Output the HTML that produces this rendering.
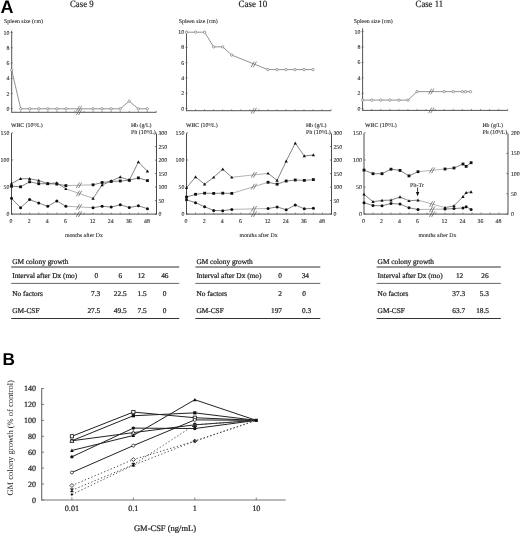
<!DOCTYPE html>
<html><head><meta charset="utf-8"><style>
html,body{margin:0;padding:0;background:#fff;}
body{width:520px;height:535px;overflow:hidden;font-family:"Liberation Serif", serif;}
svg{display:block;will-change:transform;text-rendering:geometricPrecision;}

</style></head><body>
<svg width="520" height="535" viewBox="0 0 520 535">
<rect width="520" height="535" fill="#fff"/>
<text x="0.5" y="12.7" font-size="18" text-anchor="start" font-family='"Liberation Sans", sans-serif' font-weight="bold" fill="#000" >A</text>
<text x="70" y="7.4" font-size="9.6" text-anchor="start" font-family='"Liberation Serif", serif' font-weight="normal" fill="#222" stroke="#222" stroke-width="0.2"  textLength="23.6" lengthAdjust="spacingAndGlyphs">Case 9</text>
<text x="238.6" y="7.4" font-size="9.6" text-anchor="start" font-family='"Liberation Serif", serif' font-weight="normal" fill="#222" stroke="#222" stroke-width="0.2"  textLength="28.6" lengthAdjust="spacingAndGlyphs">Case 10</text>
<text x="415.6" y="7.4" font-size="9.6" text-anchor="start" font-family='"Liberation Serif", serif' font-weight="normal" fill="#222" stroke="#222" stroke-width="0.2"  textLength="27.4" lengthAdjust="spacingAndGlyphs">Case 11</text>
<text x="4" y="23" font-size="5.85" text-anchor="start" font-family='"Liberation Serif", serif' font-weight="normal" fill="#222" stroke="#222" stroke-width="0.08" >Spleen size (cm)</text>
<line x1="11.7" y1="30.8" x2="11.7" y2="112.8" stroke="#555" stroke-width="1" />
<line x1="10.7" y1="108.8" x2="12.7" y2="108.8" stroke="#555" stroke-width="0.7" />
<text x="9.4" y="110.8" font-size="5.85" text-anchor="end" font-family='"Liberation Serif", serif' font-weight="normal" fill="#222" stroke="#222" stroke-width="0.08" >0</text>
<line x1="10.7" y1="93.54" x2="12.7" y2="93.54" stroke="#555" stroke-width="0.7" />
<text x="9.4" y="95.54" font-size="5.85" text-anchor="end" font-family='"Liberation Serif", serif' font-weight="normal" fill="#222" stroke="#222" stroke-width="0.08" >2</text>
<line x1="10.7" y1="78.28" x2="12.7" y2="78.28" stroke="#555" stroke-width="0.7" />
<text x="9.4" y="80.28" font-size="5.85" text-anchor="end" font-family='"Liberation Serif", serif' font-weight="normal" fill="#222" stroke="#222" stroke-width="0.08" >4</text>
<line x1="10.7" y1="63.02" x2="12.7" y2="63.02" stroke="#555" stroke-width="0.7" />
<text x="9.4" y="65.02" font-size="5.85" text-anchor="end" font-family='"Liberation Serif", serif' font-weight="normal" fill="#222" stroke="#222" stroke-width="0.08" >6</text>
<line x1="10.7" y1="47.76" x2="12.7" y2="47.76" stroke="#555" stroke-width="0.7" />
<text x="9.4" y="49.76" font-size="5.85" text-anchor="end" font-family='"Liberation Serif", serif' font-weight="normal" fill="#222" stroke="#222" stroke-width="0.08" >8</text>
<line x1="10.7" y1="32.5" x2="12.7" y2="32.5" stroke="#555" stroke-width="0.7" />
<text x="9.4" y="34.5" font-size="5.85" text-anchor="end" font-family='"Liberation Serif", serif' font-weight="normal" fill="#222" stroke="#222" stroke-width="0.08" >10</text>
<line x1="11.7" y1="112.3" x2="156.34" y2="112.3" stroke="#555" stroke-width="1" />
<line x1="76.35" y1="115.1" x2="79.55" y2="109.5" stroke="#555" stroke-width="0.7"/>
<line x1="78.55" y1="115.1" x2="81.75" y2="109.5" stroke="#555" stroke-width="0.7"/>
<line x1="20.74" y1="112.3" x2="20.74" y2="110.8" stroke="#555" stroke-width="0.6" />
<line x1="29.78" y1="112.3" x2="29.78" y2="110.8" stroke="#555" stroke-width="0.6" />
<line x1="38.82" y1="112.3" x2="38.82" y2="110.8" stroke="#555" stroke-width="0.6" />
<line x1="47.86" y1="112.3" x2="47.86" y2="110.8" stroke="#555" stroke-width="0.6" />
<line x1="56.9" y1="112.3" x2="56.9" y2="110.8" stroke="#555" stroke-width="0.6" />
<line x1="65.94" y1="112.3" x2="65.94" y2="110.8" stroke="#555" stroke-width="0.6" />
<line x1="74.98" y1="112.3" x2="74.98" y2="110.8" stroke="#555" stroke-width="0.6" />
<line x1="84.02" y1="112.3" x2="84.02" y2="110.8" stroke="#555" stroke-width="0.6" />
<line x1="93.06" y1="112.3" x2="93.06" y2="110.8" stroke="#555" stroke-width="0.6" />
<line x1="102.1" y1="112.3" x2="102.1" y2="110.8" stroke="#555" stroke-width="0.6" />
<line x1="111.14" y1="112.3" x2="111.14" y2="110.8" stroke="#555" stroke-width="0.6" />
<line x1="120.18" y1="112.3" x2="120.18" y2="110.8" stroke="#555" stroke-width="0.6" />
<line x1="129.22" y1="112.3" x2="129.22" y2="110.8" stroke="#555" stroke-width="0.6" />
<line x1="138.26" y1="112.3" x2="138.26" y2="110.8" stroke="#555" stroke-width="0.6" />
<line x1="147.3" y1="112.3" x2="147.3" y2="110.8" stroke="#555" stroke-width="0.6" />
<line x1="156.34" y1="112.3" x2="156.34" y2="110.8" stroke="#555" stroke-width="0.6" />
<polyline points="11.7,70.12 20.74,108.8 29.78,108.8 38.82,108.8 47.86,108.8 56.9,108.8 65.94,108.8 93.06,108.8 102.1,108.8 111.14,108.8 120.18,108.8 129.22,101.17 138.26,108.8 147.3,108.8" fill="none" stroke="#777" stroke-width="0.8" />
<circle cx="11.7" cy="70.12" r="1.2" fill="#fff" stroke="#666" stroke-width="0.6"/>
<circle cx="20.74" cy="108.8" r="1.2" fill="#fff" stroke="#666" stroke-width="0.6"/>
<circle cx="29.78" cy="108.8" r="1.2" fill="#fff" stroke="#666" stroke-width="0.6"/>
<circle cx="38.82" cy="108.8" r="1.2" fill="#fff" stroke="#666" stroke-width="0.6"/>
<circle cx="47.86" cy="108.8" r="1.2" fill="#fff" stroke="#666" stroke-width="0.6"/>
<circle cx="56.9" cy="108.8" r="1.2" fill="#fff" stroke="#666" stroke-width="0.6"/>
<circle cx="65.94" cy="108.8" r="1.2" fill="#fff" stroke="#666" stroke-width="0.6"/>
<circle cx="93.06" cy="108.8" r="1.2" fill="#fff" stroke="#666" stroke-width="0.6"/>
<circle cx="102.1" cy="108.8" r="1.2" fill="#fff" stroke="#666" stroke-width="0.6"/>
<circle cx="111.14" cy="108.8" r="1.2" fill="#fff" stroke="#666" stroke-width="0.6"/>
<circle cx="120.18" cy="108.8" r="1.2" fill="#fff" stroke="#666" stroke-width="0.6"/>
<circle cx="129.22" cy="101.17" r="1.2" fill="#fff" stroke="#666" stroke-width="0.6"/>
<circle cx="138.26" cy="108.8" r="1.2" fill="#fff" stroke="#666" stroke-width="0.6"/>
<circle cx="147.3" cy="108.8" r="1.2" fill="#fff" stroke="#666" stroke-width="0.6"/>
<text x="178.8" y="23" font-size="5.85" text-anchor="start" font-family='"Liberation Serif", serif' font-weight="normal" fill="#222" stroke="#222" stroke-width="0.08" >Spleen size (cm)</text>
<line x1="186.5" y1="30.8" x2="186.5" y2="111.2" stroke="#555" stroke-width="1" />
<line x1="185.5" y1="108.5" x2="187.5" y2="108.5" stroke="#555" stroke-width="0.7" />
<text x="184.2" y="110.5" font-size="5.85" text-anchor="end" font-family='"Liberation Serif", serif' font-weight="normal" fill="#222" stroke="#222" stroke-width="0.08" >0</text>
<line x1="185.5" y1="93.24" x2="187.5" y2="93.24" stroke="#555" stroke-width="0.7" />
<text x="184.2" y="95.24" font-size="5.85" text-anchor="end" font-family='"Liberation Serif", serif' font-weight="normal" fill="#222" stroke="#222" stroke-width="0.08" >2</text>
<line x1="185.5" y1="77.98" x2="187.5" y2="77.98" stroke="#555" stroke-width="0.7" />
<text x="184.2" y="79.98" font-size="5.85" text-anchor="end" font-family='"Liberation Serif", serif' font-weight="normal" fill="#222" stroke="#222" stroke-width="0.08" >4</text>
<line x1="185.5" y1="62.72" x2="187.5" y2="62.72" stroke="#555" stroke-width="0.7" />
<text x="184.2" y="64.72" font-size="5.85" text-anchor="end" font-family='"Liberation Serif", serif' font-weight="normal" fill="#222" stroke="#222" stroke-width="0.08" >6</text>
<line x1="185.5" y1="47.46" x2="187.5" y2="47.46" stroke="#555" stroke-width="0.7" />
<text x="184.2" y="49.46" font-size="5.85" text-anchor="end" font-family='"Liberation Serif", serif' font-weight="normal" fill="#222" stroke="#222" stroke-width="0.08" >8</text>
<line x1="185.5" y1="32.2" x2="187.5" y2="32.2" stroke="#555" stroke-width="0.7" />
<text x="184.2" y="34.2" font-size="5.85" text-anchor="end" font-family='"Liberation Serif", serif' font-weight="normal" fill="#222" stroke="#222" stroke-width="0.08" >10</text>
<line x1="186.5" y1="110.7" x2="331.14" y2="110.7" stroke="#555" stroke-width="1" />
<line x1="251.06" y1="113.5" x2="254.26" y2="107.9" stroke="#555" stroke-width="0.7"/>
<line x1="253.26" y1="113.5" x2="256.46" y2="107.9" stroke="#555" stroke-width="0.7"/>
<line x1="195.54" y1="110.7" x2="195.54" y2="109.2" stroke="#555" stroke-width="0.6" />
<line x1="204.58" y1="110.7" x2="204.58" y2="109.2" stroke="#555" stroke-width="0.6" />
<line x1="213.62" y1="110.7" x2="213.62" y2="109.2" stroke="#555" stroke-width="0.6" />
<line x1="222.66" y1="110.7" x2="222.66" y2="109.2" stroke="#555" stroke-width="0.6" />
<line x1="231.7" y1="110.7" x2="231.7" y2="109.2" stroke="#555" stroke-width="0.6" />
<line x1="240.74" y1="110.7" x2="240.74" y2="109.2" stroke="#555" stroke-width="0.6" />
<line x1="249.78" y1="110.7" x2="249.78" y2="109.2" stroke="#555" stroke-width="0.6" />
<line x1="258.82" y1="110.7" x2="258.82" y2="109.2" stroke="#555" stroke-width="0.6" />
<line x1="267.86" y1="110.7" x2="267.86" y2="109.2" stroke="#555" stroke-width="0.6" />
<line x1="276.9" y1="110.7" x2="276.9" y2="109.2" stroke="#555" stroke-width="0.6" />
<line x1="285.94" y1="110.7" x2="285.94" y2="109.2" stroke="#555" stroke-width="0.6" />
<line x1="294.98" y1="110.7" x2="294.98" y2="109.2" stroke="#555" stroke-width="0.6" />
<line x1="304.02" y1="110.7" x2="304.02" y2="109.2" stroke="#555" stroke-width="0.6" />
<line x1="313.06" y1="110.7" x2="313.06" y2="109.2" stroke="#555" stroke-width="0.6" />
<line x1="322.1" y1="110.7" x2="322.1" y2="109.2" stroke="#555" stroke-width="0.6" />
<line x1="331.14" y1="110.7" x2="331.14" y2="109.2" stroke="#555" stroke-width="0.6" />
<polyline points="186.5,32.2 195.54,32.2 204.58,32.2 213.62,46.85 222.66,46.85 231.7,55.09 267.86,69.59 276.9,69.59 285.94,69.59 294.98,69.59 304.02,69.59 313.06,69.59" fill="none" stroke="#777" stroke-width="0.8" />
<circle cx="186.5" cy="32.2" r="1.2" fill="#fff" stroke="#666" stroke-width="0.6"/>
<circle cx="195.54" cy="32.2" r="1.2" fill="#fff" stroke="#666" stroke-width="0.6"/>
<circle cx="204.58" cy="32.2" r="1.2" fill="#fff" stroke="#666" stroke-width="0.6"/>
<circle cx="213.62" cy="46.85" r="1.2" fill="#fff" stroke="#666" stroke-width="0.6"/>
<circle cx="222.66" cy="46.85" r="1.2" fill="#fff" stroke="#666" stroke-width="0.6"/>
<circle cx="231.7" cy="55.09" r="1.2" fill="#fff" stroke="#666" stroke-width="0.6"/>
<circle cx="267.86" cy="69.59" r="1.2" fill="#fff" stroke="#666" stroke-width="0.6"/>
<circle cx="276.9" cy="69.59" r="1.2" fill="#fff" stroke="#666" stroke-width="0.6"/>
<circle cx="285.94" cy="69.59" r="1.2" fill="#fff" stroke="#666" stroke-width="0.6"/>
<circle cx="294.98" cy="69.59" r="1.2" fill="#fff" stroke="#666" stroke-width="0.6"/>
<circle cx="304.02" cy="69.59" r="1.2" fill="#fff" stroke="#666" stroke-width="0.6"/>
<circle cx="313.06" cy="69.59" r="1.2" fill="#fff" stroke="#666" stroke-width="0.6"/>
<text x="353.8" y="23" font-size="5.85" text-anchor="start" font-family='"Liberation Serif", serif' font-weight="normal" fill="#222" stroke="#222" stroke-width="0.08" >Spleen size (cm)</text>
<line x1="362.6" y1="28.4" x2="362.6" y2="110.9" stroke="#555" stroke-width="1" />
<line x1="361.6" y1="108.8" x2="363.6" y2="108.8" stroke="#555" stroke-width="0.7" />
<text x="360.3" y="110.8" font-size="5.85" text-anchor="end" font-family='"Liberation Serif", serif' font-weight="normal" fill="#222" stroke="#222" stroke-width="0.08" >0</text>
<line x1="361.6" y1="93.34" x2="363.6" y2="93.34" stroke="#555" stroke-width="0.7" />
<text x="360.3" y="95.34" font-size="5.85" text-anchor="end" font-family='"Liberation Serif", serif' font-weight="normal" fill="#222" stroke="#222" stroke-width="0.08" >2</text>
<line x1="361.6" y1="77.88" x2="363.6" y2="77.88" stroke="#555" stroke-width="0.7" />
<text x="360.3" y="79.88" font-size="5.85" text-anchor="end" font-family='"Liberation Serif", serif' font-weight="normal" fill="#222" stroke="#222" stroke-width="0.08" >4</text>
<line x1="361.6" y1="62.42" x2="363.6" y2="62.42" stroke="#555" stroke-width="0.7" />
<text x="360.3" y="64.42" font-size="5.85" text-anchor="end" font-family='"Liberation Serif", serif' font-weight="normal" fill="#222" stroke="#222" stroke-width="0.08" >6</text>
<line x1="361.6" y1="46.96" x2="363.6" y2="46.96" stroke="#555" stroke-width="0.7" />
<text x="360.3" y="48.96" font-size="5.85" text-anchor="end" font-family='"Liberation Serif", serif' font-weight="normal" fill="#222" stroke="#222" stroke-width="0.08" >8</text>
<line x1="361.6" y1="31.5" x2="363.6" y2="31.5" stroke="#555" stroke-width="0.7" />
<text x="360.3" y="33.5" font-size="5.85" text-anchor="end" font-family='"Liberation Serif", serif' font-weight="normal" fill="#222" stroke="#222" stroke-width="0.08" >10</text>
<line x1="362.6" y1="110.4" x2="507.72" y2="110.4" stroke="#555" stroke-width="1" />
<line x1="428.56" y1="113.2" x2="431.76" y2="107.6" stroke="#555" stroke-width="0.7"/>
<line x1="430.76" y1="113.2" x2="433.96" y2="107.6" stroke="#555" stroke-width="0.7"/>
<line x1="371.67" y1="110.4" x2="371.67" y2="108.9" stroke="#555" stroke-width="0.6" />
<line x1="380.74" y1="110.4" x2="380.74" y2="108.9" stroke="#555" stroke-width="0.6" />
<line x1="389.81" y1="110.4" x2="389.81" y2="108.9" stroke="#555" stroke-width="0.6" />
<line x1="398.88" y1="110.4" x2="398.88" y2="108.9" stroke="#555" stroke-width="0.6" />
<line x1="407.95" y1="110.4" x2="407.95" y2="108.9" stroke="#555" stroke-width="0.6" />
<line x1="417.02" y1="110.4" x2="417.02" y2="108.9" stroke="#555" stroke-width="0.6" />
<line x1="426.09" y1="110.4" x2="426.09" y2="108.9" stroke="#555" stroke-width="0.6" />
<line x1="435.16" y1="110.4" x2="435.16" y2="108.9" stroke="#555" stroke-width="0.6" />
<line x1="444.23" y1="110.4" x2="444.23" y2="108.9" stroke="#555" stroke-width="0.6" />
<line x1="453.3" y1="110.4" x2="453.3" y2="108.9" stroke="#555" stroke-width="0.6" />
<line x1="462.37" y1="110.4" x2="462.37" y2="108.9" stroke="#555" stroke-width="0.6" />
<line x1="471.44" y1="110.4" x2="471.44" y2="108.9" stroke="#555" stroke-width="0.6" />
<line x1="480.51" y1="110.4" x2="480.51" y2="108.9" stroke="#555" stroke-width="0.6" />
<line x1="489.58" y1="110.4" x2="489.58" y2="108.9" stroke="#555" stroke-width="0.6" />
<line x1="498.65" y1="110.4" x2="498.65" y2="108.9" stroke="#555" stroke-width="0.6" />
<line x1="507.72" y1="110.4" x2="507.72" y2="108.9" stroke="#555" stroke-width="0.6" />
<polyline points="362.6,100.14 371.67,100.14 380.74,100.14 389.81,100.14 398.88,100.14 407.95,100.14 417.02,91.64 444.23,91.64 453.3,91.64 462.37,91.64 465.54,91.64 470.53,91.64" fill="none" stroke="#777" stroke-width="0.8" />
<circle cx="362.6" cy="100.14" r="1.2" fill="#fff" stroke="#666" stroke-width="0.6"/>
<circle cx="371.67" cy="100.14" r="1.2" fill="#fff" stroke="#666" stroke-width="0.6"/>
<circle cx="380.74" cy="100.14" r="1.2" fill="#fff" stroke="#666" stroke-width="0.6"/>
<circle cx="389.81" cy="100.14" r="1.2" fill="#fff" stroke="#666" stroke-width="0.6"/>
<circle cx="398.88" cy="100.14" r="1.2" fill="#fff" stroke="#666" stroke-width="0.6"/>
<circle cx="407.95" cy="100.14" r="1.2" fill="#fff" stroke="#666" stroke-width="0.6"/>
<circle cx="417.02" cy="91.64" r="1.2" fill="#fff" stroke="#666" stroke-width="0.6"/>
<circle cx="444.23" cy="91.64" r="1.2" fill="#fff" stroke="#666" stroke-width="0.6"/>
<circle cx="453.3" cy="91.64" r="1.2" fill="#fff" stroke="#666" stroke-width="0.6"/>
<circle cx="462.37" cy="91.64" r="1.2" fill="#fff" stroke="#666" stroke-width="0.6"/>
<circle cx="465.54" cy="91.64" r="1.2" fill="#fff" stroke="#666" stroke-width="0.6"/>
<circle cx="470.53" cy="91.64" r="1.2" fill="#fff" stroke="#666" stroke-width="0.6"/>
<line x1="251.06" y1="67.2" x2="254.26" y2="61.6" stroke="#555" stroke-width="0.7"/>
<line x1="253.26" y1="67.2" x2="256.46" y2="61.6" stroke="#555" stroke-width="0.7"/>
<line x1="76.35" y1="111.4" x2="79.55" y2="105.8" stroke="#666" stroke-width="0.7"/>
<line x1="78.55" y1="111.4" x2="81.75" y2="105.8" stroke="#666" stroke-width="0.7"/>
<line x1="428.56" y1="94.2" x2="431.76" y2="88.6" stroke="#555" stroke-width="0.7"/>
<line x1="430.76" y1="94.2" x2="433.96" y2="88.6" stroke="#555" stroke-width="0.7"/>
<text x="10.9" y="127" font-size="5.85" text-anchor="start" font-family='"Liberation Serif", serif' font-weight="normal" fill="#222" stroke="#222" stroke-width="0.08" >WBC (10⁹/L)</text>
<text x="130.9" y="126.6" font-size="5.85" text-anchor="start" font-family='"Liberation Serif", serif' font-weight="normal" fill="#222" stroke="#222" stroke-width="0.08" >Hb (g/L)</text>
<text x="130.9" y="134.1" font-size="5.85" text-anchor="start" font-family='"Liberation Serif", serif' font-weight="normal" fill="#222" stroke="#222" stroke-width="0.08" >Plt (10⁹/L)</text>
<line x1="11.5" y1="133.2" x2="11.5" y2="214.6" stroke="#4a4a4a" stroke-width="1" />
<line x1="11.5" y1="214.1" x2="13.1" y2="214.1" stroke="#4a4a4a" stroke-width="0.7" />
<text x="9.3" y="216.1" font-size="5.85" text-anchor="end" font-family='"Liberation Serif", serif' font-weight="normal" fill="#222" stroke="#222" stroke-width="0.08" >0</text>
<line x1="11.5" y1="187.03" x2="13.1" y2="187.03" stroke="#4a4a4a" stroke-width="0.7" />
<text x="9.3" y="189.03" font-size="5.85" text-anchor="end" font-family='"Liberation Serif", serif' font-weight="normal" fill="#222" stroke="#222" stroke-width="0.08" >50</text>
<line x1="11.5" y1="159.97" x2="13.1" y2="159.97" stroke="#4a4a4a" stroke-width="0.7" />
<text x="9.3" y="161.97" font-size="5.85" text-anchor="end" font-family='"Liberation Serif", serif' font-weight="normal" fill="#222" stroke="#222" stroke-width="0.08" >100</text>
<line x1="11.5" y1="132.9" x2="13.1" y2="132.9" stroke="#4a4a4a" stroke-width="0.7" />
<text x="9.3" y="134.9" font-size="5.85" text-anchor="end" font-family='"Liberation Serif", serif' font-weight="normal" fill="#222" stroke="#222" stroke-width="0.08" >150</text>
<line x1="156.5" y1="133.6" x2="156.5" y2="214.6" stroke="#4a4a4a" stroke-width="1" />
<line x1="154.9" y1="214.1" x2="156.5" y2="214.1" stroke="#4a4a4a" stroke-width="0.7" />
<text x="158.4" y="216.1" font-size="5.85" text-anchor="start" font-family='"Liberation Serif", serif' font-weight="normal" fill="#222" stroke="#222" stroke-width="0.08" >0</text>
<line x1="154.9" y1="200.6" x2="156.5" y2="200.6" stroke="#4a4a4a" stroke-width="0.7" />
<text x="158.4" y="202.6" font-size="5.85" text-anchor="start" font-family='"Liberation Serif", serif' font-weight="normal" fill="#222" stroke="#222" stroke-width="0.08" >50</text>
<line x1="154.9" y1="187.1" x2="156.5" y2="187.1" stroke="#4a4a4a" stroke-width="0.7" />
<text x="158.4" y="189.1" font-size="5.85" text-anchor="start" font-family='"Liberation Serif", serif' font-weight="normal" fill="#222" stroke="#222" stroke-width="0.08" >100</text>
<line x1="154.9" y1="173.6" x2="156.5" y2="173.6" stroke="#4a4a4a" stroke-width="0.7" />
<text x="158.4" y="175.6" font-size="5.85" text-anchor="start" font-family='"Liberation Serif", serif' font-weight="normal" fill="#222" stroke="#222" stroke-width="0.08" >150</text>
<line x1="154.9" y1="160.1" x2="156.5" y2="160.1" stroke="#4a4a4a" stroke-width="0.7" />
<text x="158.4" y="162.1" font-size="5.85" text-anchor="start" font-family='"Liberation Serif", serif' font-weight="normal" fill="#222" stroke="#222" stroke-width="0.08" >200</text>
<line x1="154.9" y1="146.6" x2="156.5" y2="146.6" stroke="#4a4a4a" stroke-width="0.7" />
<text x="158.4" y="148.6" font-size="5.85" text-anchor="start" font-family='"Liberation Serif", serif' font-weight="normal" fill="#222" stroke="#222" stroke-width="0.08" >250</text>
<line x1="154.9" y1="133.1" x2="156.5" y2="133.1" stroke="#4a4a4a" stroke-width="0.7" />
<text x="158.4" y="135.1" font-size="5.85" text-anchor="start" font-family='"Liberation Serif", serif' font-weight="normal" fill="#222" stroke="#222" stroke-width="0.08" >300</text>
<line x1="11.5" y1="214.1" x2="156.5" y2="214.1" stroke="#4a4a4a" stroke-width="1" />
<line x1="76.32" y1="216.9" x2="79.52" y2="211.3" stroke="#4a4a4a" stroke-width="0.7"/>
<line x1="78.52" y1="216.9" x2="81.72" y2="211.3" stroke="#4a4a4a" stroke-width="0.7"/>
<line x1="20.56" y1="214.1" x2="20.56" y2="212.6" stroke="#4a4a4a" stroke-width="0.6" />
<line x1="29.62" y1="214.1" x2="29.62" y2="212.6" stroke="#4a4a4a" stroke-width="0.6" />
<line x1="38.69" y1="214.1" x2="38.69" y2="212.6" stroke="#4a4a4a" stroke-width="0.6" />
<line x1="47.75" y1="214.1" x2="47.75" y2="212.6" stroke="#4a4a4a" stroke-width="0.6" />
<line x1="56.81" y1="214.1" x2="56.81" y2="212.6" stroke="#4a4a4a" stroke-width="0.6" />
<line x1="65.88" y1="214.1" x2="65.88" y2="212.6" stroke="#4a4a4a" stroke-width="0.6" />
<line x1="74.94" y1="214.1" x2="74.94" y2="212.6" stroke="#4a4a4a" stroke-width="0.6" />
<line x1="84" y1="214.1" x2="84" y2="212.6" stroke="#4a4a4a" stroke-width="0.6" />
<line x1="93.06" y1="214.1" x2="93.06" y2="212.6" stroke="#4a4a4a" stroke-width="0.6" />
<line x1="102.12" y1="214.1" x2="102.12" y2="212.6" stroke="#4a4a4a" stroke-width="0.6" />
<line x1="111.19" y1="214.1" x2="111.19" y2="212.6" stroke="#4a4a4a" stroke-width="0.6" />
<line x1="120.25" y1="214.1" x2="120.25" y2="212.6" stroke="#4a4a4a" stroke-width="0.6" />
<line x1="129.31" y1="214.1" x2="129.31" y2="212.6" stroke="#4a4a4a" stroke-width="0.6" />
<line x1="138.38" y1="214.1" x2="138.38" y2="212.6" stroke="#4a4a4a" stroke-width="0.6" />
<line x1="147.44" y1="214.1" x2="147.44" y2="212.6" stroke="#4a4a4a" stroke-width="0.6" />
<text x="11" y="223" font-size="5.85" text-anchor="middle" font-family='"Liberation Serif", serif' font-weight="normal" fill="#222" stroke="#222" stroke-width="0.08" >0</text>
<text x="29.12" y="223" font-size="5.85" text-anchor="middle" font-family='"Liberation Serif", serif' font-weight="normal" fill="#222" stroke="#222" stroke-width="0.08" >2</text>
<text x="47.25" y="223" font-size="5.85" text-anchor="middle" font-family='"Liberation Serif", serif' font-weight="normal" fill="#222" stroke="#222" stroke-width="0.08" >4</text>
<text x="65.38" y="223" font-size="5.85" text-anchor="middle" font-family='"Liberation Serif", serif' font-weight="normal" fill="#222" stroke="#222" stroke-width="0.08" >6</text>
<text x="92.56" y="223" font-size="5.85" text-anchor="middle" font-family='"Liberation Serif", serif' font-weight="normal" fill="#222" stroke="#222" stroke-width="0.08" >12</text>
<text x="110.69" y="223" font-size="5.85" text-anchor="middle" font-family='"Liberation Serif", serif' font-weight="normal" fill="#222" stroke="#222" stroke-width="0.08" >24</text>
<text x="128.81" y="223" font-size="5.85" text-anchor="middle" font-family='"Liberation Serif", serif' font-weight="normal" fill="#222" stroke="#222" stroke-width="0.08" >36</text>
<text x="146.94" y="223" font-size="5.85" text-anchor="middle" font-family='"Liberation Serif", serif' font-weight="normal" fill="#222" stroke="#222" stroke-width="0.08" >48</text>
<text x="64.9" y="236.6" font-size="5.85" text-anchor="start" font-family='"Liberation Serif", serif' font-weight="normal" fill="#222" stroke="#222" stroke-width="0.08" >months after Dx</text>
<polyline points="11.5,183.5 20.56,178.7 29.62,178.7 38.69,180.5 47.75,183.5 56.81,183 65.88,188.8" fill="none" stroke="#5a5a5a" stroke-width="0.75" />
<polyline points="65.88,188.8 93.06,198.4" fill="none" stroke="#999" stroke-width="0.75" />
<polyline points="93.06,198.4 102.12,185 111.19,181 120.25,177 129.31,180.2 138.38,162 147.44,171.2" fill="none" stroke="#5a5a5a" stroke-width="0.75" />
<line x1="76.32" y1="196.24" x2="79.52" y2="190.64" stroke="#555" stroke-width="0.7"/>
<line x1="78.52" y1="196.24" x2="81.72" y2="190.64" stroke="#555" stroke-width="0.7"/>
<polygon points="11.5,181.87 9.87,184.8 13.13,184.8" fill="#111"/>
<polygon points="20.56,177.07 18.93,180 22.19,180" fill="#111"/>
<polygon points="29.62,177.07 28,180 31.25,180" fill="#111"/>
<polygon points="38.69,178.87 37.06,181.8 40.32,181.8" fill="#111"/>
<polygon points="47.75,181.87 46.12,184.8 49.38,184.8" fill="#111"/>
<polygon points="56.81,181.37 55.18,184.3 58.44,184.3" fill="#111"/>
<polygon points="65.88,187.17 64.25,190.1 67.5,190.1" fill="#111"/>
<polygon points="93.06,196.77 91.43,199.7 94.69,199.7" fill="#111"/>
<polygon points="102.12,183.37 100.5,186.3 103.75,186.3" fill="#111"/>
<polygon points="111.19,179.37 109.56,182.3 112.82,182.3" fill="#111"/>
<polygon points="120.25,175.37 118.62,178.3 121.88,178.3" fill="#111"/>
<polygon points="129.31,178.57 127.68,181.5 130.94,181.5" fill="#111"/>
<polygon points="138.38,160.37 136.75,163.3 140,163.3" fill="#111"/>
<polygon points="147.44,169.57 145.81,172.5 149.07,172.5" fill="#111"/>
<polyline points="11.5,186.2 20.56,186.8 29.62,181.8 38.69,183.7 47.75,183.7 56.81,184.1 65.88,185.6" fill="none" stroke="#5a5a5a" stroke-width="0.75" />
<polyline points="65.88,185.6 93.06,184.8" fill="none" stroke="#999" stroke-width="0.75" />
<polyline points="93.06,184.8 102.12,182.5 111.19,181.5 120.25,181 129.31,180.2 138.38,177.9 147.44,180.6" fill="none" stroke="#5a5a5a" stroke-width="0.75" />
<line x1="76.32" y1="188.01" x2="79.52" y2="182.41" stroke="#555" stroke-width="0.7"/>
<line x1="78.52" y1="188.01" x2="81.72" y2="182.41" stroke="#555" stroke-width="0.7"/>
<rect x="10.09" y="184.79" width="2.82" height="2.82" fill="#111"/>
<rect x="19.15" y="185.39" width="2.82" height="2.82" fill="#111"/>
<rect x="28.22" y="180.39" width="2.82" height="2.82" fill="#111"/>
<rect x="37.28" y="182.29" width="2.82" height="2.82" fill="#111"/>
<rect x="46.34" y="182.29" width="2.82" height="2.82" fill="#111"/>
<rect x="55.4" y="182.69" width="2.82" height="2.82" fill="#111"/>
<rect x="64.47" y="184.19" width="2.82" height="2.82" fill="#111"/>
<rect x="91.65" y="183.39" width="2.82" height="2.82" fill="#111"/>
<rect x="100.72" y="181.09" width="2.82" height="2.82" fill="#111"/>
<rect x="109.78" y="180.09" width="2.82" height="2.82" fill="#111"/>
<rect x="118.84" y="179.59" width="2.82" height="2.82" fill="#111"/>
<rect x="127.9" y="178.79" width="2.82" height="2.82" fill="#111"/>
<rect x="136.97" y="176.49" width="2.82" height="2.82" fill="#111"/>
<rect x="146.03" y="179.19" width="2.82" height="2.82" fill="#111"/>
<polyline points="11.5,198.3 20.56,207.7 29.62,199.6 38.69,203 47.75,206.3 56.81,201 65.88,206.2" fill="none" stroke="#5a5a5a" stroke-width="0.75" />
<polyline points="65.88,206.2 93.06,207.7" fill="none" stroke="#999" stroke-width="0.75" />
<polyline points="93.06,207.7 102.12,206.2 111.19,207.1 120.25,204.8 129.31,207.5 138.38,205.8 147.44,208.7" fill="none" stroke="#5a5a5a" stroke-width="0.75" />
<line x1="76.32" y1="209.72" x2="79.52" y2="204.12" stroke="#555" stroke-width="0.7"/>
<line x1="78.52" y1="209.72" x2="81.72" y2="204.12" stroke="#555" stroke-width="0.7"/>
<circle cx="11.5" cy="198.3" r="1.5" fill="#111"/>
<circle cx="20.56" cy="207.7" r="1.5" fill="#111"/>
<circle cx="29.62" cy="199.6" r="1.5" fill="#111"/>
<circle cx="38.69" cy="203" r="1.5" fill="#111"/>
<circle cx="47.75" cy="206.3" r="1.5" fill="#111"/>
<circle cx="56.81" cy="201" r="1.5" fill="#111"/>
<circle cx="65.88" cy="206.2" r="1.5" fill="#111"/>
<circle cx="93.06" cy="207.7" r="1.5" fill="#111"/>
<circle cx="102.12" cy="206.2" r="1.5" fill="#111"/>
<circle cx="111.19" cy="207.1" r="1.5" fill="#111"/>
<circle cx="120.25" cy="204.8" r="1.5" fill="#111"/>
<circle cx="129.31" cy="207.5" r="1.5" fill="#111"/>
<circle cx="138.38" cy="205.8" r="1.5" fill="#111"/>
<circle cx="147.44" cy="208.7" r="1.5" fill="#111"/>
<text x="185.9" y="127" font-size="5.85" text-anchor="start" font-family='"Liberation Serif", serif' font-weight="normal" fill="#222" stroke="#222" stroke-width="0.08" >WBC (10⁹/L)</text>
<text x="305.9" y="126.6" font-size="5.85" text-anchor="start" font-family='"Liberation Serif", serif' font-weight="normal" fill="#222" stroke="#222" stroke-width="0.08" >Hb (g/L)</text>
<text x="305.9" y="134.1" font-size="5.85" text-anchor="start" font-family='"Liberation Serif", serif' font-weight="normal" fill="#222" stroke="#222" stroke-width="0.08" >Plt (10⁹/L)</text>
<line x1="186.5" y1="133.2" x2="186.5" y2="214.6" stroke="#4a4a4a" stroke-width="1" />
<line x1="186.5" y1="214.1" x2="188.1" y2="214.1" stroke="#4a4a4a" stroke-width="0.7" />
<text x="184.3" y="216.1" font-size="5.85" text-anchor="end" font-family='"Liberation Serif", serif' font-weight="normal" fill="#222" stroke="#222" stroke-width="0.08" >0</text>
<line x1="186.5" y1="187.03" x2="188.1" y2="187.03" stroke="#4a4a4a" stroke-width="0.7" />
<text x="184.3" y="189.03" font-size="5.85" text-anchor="end" font-family='"Liberation Serif", serif' font-weight="normal" fill="#222" stroke="#222" stroke-width="0.08" >50</text>
<line x1="186.5" y1="159.97" x2="188.1" y2="159.97" stroke="#4a4a4a" stroke-width="0.7" />
<text x="184.3" y="161.97" font-size="5.85" text-anchor="end" font-family='"Liberation Serif", serif' font-weight="normal" fill="#222" stroke="#222" stroke-width="0.08" >100</text>
<line x1="186.5" y1="132.9" x2="188.1" y2="132.9" stroke="#4a4a4a" stroke-width="0.7" />
<text x="184.3" y="134.9" font-size="5.85" text-anchor="end" font-family='"Liberation Serif", serif' font-weight="normal" fill="#222" stroke="#222" stroke-width="0.08" >150</text>
<line x1="331.5" y1="133.6" x2="331.5" y2="214.6" stroke="#4a4a4a" stroke-width="1" />
<line x1="329.9" y1="214.1" x2="331.5" y2="214.1" stroke="#4a4a4a" stroke-width="0.7" />
<text x="333.4" y="216.1" font-size="5.85" text-anchor="start" font-family='"Liberation Serif", serif' font-weight="normal" fill="#222" stroke="#222" stroke-width="0.08" >0</text>
<line x1="329.9" y1="200.6" x2="331.5" y2="200.6" stroke="#4a4a4a" stroke-width="0.7" />
<text x="333.4" y="202.6" font-size="5.85" text-anchor="start" font-family='"Liberation Serif", serif' font-weight="normal" fill="#222" stroke="#222" stroke-width="0.08" >50</text>
<line x1="329.9" y1="187.1" x2="331.5" y2="187.1" stroke="#4a4a4a" stroke-width="0.7" />
<text x="333.4" y="189.1" font-size="5.85" text-anchor="start" font-family='"Liberation Serif", serif' font-weight="normal" fill="#222" stroke="#222" stroke-width="0.08" >100</text>
<line x1="329.9" y1="173.6" x2="331.5" y2="173.6" stroke="#4a4a4a" stroke-width="0.7" />
<text x="333.4" y="175.6" font-size="5.85" text-anchor="start" font-family='"Liberation Serif", serif' font-weight="normal" fill="#222" stroke="#222" stroke-width="0.08" >150</text>
<line x1="329.9" y1="160.1" x2="331.5" y2="160.1" stroke="#4a4a4a" stroke-width="0.7" />
<text x="333.4" y="162.1" font-size="5.85" text-anchor="start" font-family='"Liberation Serif", serif' font-weight="normal" fill="#222" stroke="#222" stroke-width="0.08" >200</text>
<line x1="329.9" y1="146.6" x2="331.5" y2="146.6" stroke="#4a4a4a" stroke-width="0.7" />
<text x="333.4" y="148.6" font-size="5.85" text-anchor="start" font-family='"Liberation Serif", serif' font-weight="normal" fill="#222" stroke="#222" stroke-width="0.08" >250</text>
<line x1="329.9" y1="133.1" x2="331.5" y2="133.1" stroke="#4a4a4a" stroke-width="0.7" />
<text x="333.4" y="135.1" font-size="5.85" text-anchor="start" font-family='"Liberation Serif", serif' font-weight="normal" fill="#222" stroke="#222" stroke-width="0.08" >300</text>
<line x1="186.5" y1="214.1" x2="331.5" y2="214.1" stroke="#4a4a4a" stroke-width="1" />
<line x1="251.23" y1="216.9" x2="254.43" y2="211.3" stroke="#4a4a4a" stroke-width="0.7"/>
<line x1="253.43" y1="216.9" x2="256.62" y2="211.3" stroke="#4a4a4a" stroke-width="0.7"/>
<line x1="195.56" y1="214.1" x2="195.56" y2="212.6" stroke="#4a4a4a" stroke-width="0.6" />
<line x1="204.62" y1="214.1" x2="204.62" y2="212.6" stroke="#4a4a4a" stroke-width="0.6" />
<line x1="213.69" y1="214.1" x2="213.69" y2="212.6" stroke="#4a4a4a" stroke-width="0.6" />
<line x1="222.75" y1="214.1" x2="222.75" y2="212.6" stroke="#4a4a4a" stroke-width="0.6" />
<line x1="231.81" y1="214.1" x2="231.81" y2="212.6" stroke="#4a4a4a" stroke-width="0.6" />
<line x1="240.88" y1="214.1" x2="240.88" y2="212.6" stroke="#4a4a4a" stroke-width="0.6" />
<line x1="249.94" y1="214.1" x2="249.94" y2="212.6" stroke="#4a4a4a" stroke-width="0.6" />
<line x1="259" y1="214.1" x2="259" y2="212.6" stroke="#4a4a4a" stroke-width="0.6" />
<line x1="268.06" y1="214.1" x2="268.06" y2="212.6" stroke="#4a4a4a" stroke-width="0.6" />
<line x1="277.12" y1="214.1" x2="277.12" y2="212.6" stroke="#4a4a4a" stroke-width="0.6" />
<line x1="286.19" y1="214.1" x2="286.19" y2="212.6" stroke="#4a4a4a" stroke-width="0.6" />
<line x1="295.25" y1="214.1" x2="295.25" y2="212.6" stroke="#4a4a4a" stroke-width="0.6" />
<line x1="304.31" y1="214.1" x2="304.31" y2="212.6" stroke="#4a4a4a" stroke-width="0.6" />
<line x1="313.38" y1="214.1" x2="313.38" y2="212.6" stroke="#4a4a4a" stroke-width="0.6" />
<line x1="322.44" y1="214.1" x2="322.44" y2="212.6" stroke="#4a4a4a" stroke-width="0.6" />
<text x="186" y="223" font-size="5.85" text-anchor="middle" font-family='"Liberation Serif", serif' font-weight="normal" fill="#222" stroke="#222" stroke-width="0.08" >0</text>
<text x="204.12" y="223" font-size="5.85" text-anchor="middle" font-family='"Liberation Serif", serif' font-weight="normal" fill="#222" stroke="#222" stroke-width="0.08" >2</text>
<text x="222.25" y="223" font-size="5.85" text-anchor="middle" font-family='"Liberation Serif", serif' font-weight="normal" fill="#222" stroke="#222" stroke-width="0.08" >4</text>
<text x="240.38" y="223" font-size="5.85" text-anchor="middle" font-family='"Liberation Serif", serif' font-weight="normal" fill="#222" stroke="#222" stroke-width="0.08" >6</text>
<text x="267.56" y="223" font-size="5.85" text-anchor="middle" font-family='"Liberation Serif", serif' font-weight="normal" fill="#222" stroke="#222" stroke-width="0.08" >12</text>
<text x="285.69" y="223" font-size="5.85" text-anchor="middle" font-family='"Liberation Serif", serif' font-weight="normal" fill="#222" stroke="#222" stroke-width="0.08" >24</text>
<text x="303.81" y="223" font-size="5.85" text-anchor="middle" font-family='"Liberation Serif", serif' font-weight="normal" fill="#222" stroke="#222" stroke-width="0.08" >36</text>
<text x="321.94" y="223" font-size="5.85" text-anchor="middle" font-family='"Liberation Serif", serif' font-weight="normal" fill="#222" stroke="#222" stroke-width="0.08" >48</text>
<text x="239.6" y="236.6" font-size="5.85" text-anchor="start" font-family='"Liberation Serif", serif' font-weight="normal" fill="#222" stroke="#222" stroke-width="0.08" >months after Dx</text>
<polyline points="186.5,187.7 195.56,177 204.62,184.2 213.69,177.3 222.75,169.2 231.81,177.3" fill="none" stroke="#5a5a5a" stroke-width="0.75" />
<polyline points="231.81,177.3 268.06,173.3" fill="none" stroke="#999" stroke-width="0.75" />
<polyline points="268.06,173.3 277.12,180.4 286.19,161.2 295.25,143.1 304.31,156 313.38,155" fill="none" stroke="#5a5a5a" stroke-width="0.75" />
<line x1="251.23" y1="177.66" x2="254.43" y2="172.06" stroke="#555" stroke-width="0.7"/>
<line x1="253.43" y1="177.66" x2="256.62" y2="172.06" stroke="#555" stroke-width="0.7"/>
<polygon points="186.5,186.07 184.87,189 188.13,189" fill="#111"/>
<polygon points="195.56,175.37 193.93,178.3 197.19,178.3" fill="#111"/>
<polygon points="204.62,182.57 203,185.5 206.25,185.5" fill="#111"/>
<polygon points="213.69,175.67 212.06,178.6 215.32,178.6" fill="#111"/>
<polygon points="222.75,167.57 221.12,170.5 224.38,170.5" fill="#111"/>
<polygon points="231.81,175.67 230.18,178.6 233.44,178.6" fill="#111"/>
<polygon points="268.06,171.67 266.43,174.6 269.69,174.6" fill="#111"/>
<polygon points="277.12,178.77 275.5,181.7 278.75,181.7" fill="#111"/>
<polygon points="286.19,159.57 284.56,162.5 287.82,162.5" fill="#111"/>
<polygon points="295.25,141.47 293.62,144.4 296.88,144.4" fill="#111"/>
<polygon points="304.31,154.37 302.68,157.3 305.94,157.3" fill="#111"/>
<polygon points="313.38,153.37 311.75,156.3 315,156.3" fill="#111"/>
<polyline points="186.5,197.1 195.56,194.3 204.62,193.2 213.69,193.4 222.75,193.2 231.81,193.4" fill="none" stroke="#5a5a5a" stroke-width="0.75" />
<polyline points="231.81,193.4 268.06,182.3" fill="none" stroke="#999" stroke-width="0.75" />
<polyline points="268.06,182.3 277.12,184.2 286.19,181 295.25,180 304.31,180.4 313.38,179.6" fill="none" stroke="#5a5a5a" stroke-width="0.75" />
<line x1="251.23" y1="189.43" x2="254.43" y2="183.83" stroke="#555" stroke-width="0.7"/>
<line x1="253.43" y1="189.43" x2="256.62" y2="183.83" stroke="#555" stroke-width="0.7"/>
<rect x="185.09" y="195.69" width="2.82" height="2.82" fill="#111"/>
<rect x="194.15" y="192.89" width="2.82" height="2.82" fill="#111"/>
<rect x="203.22" y="191.79" width="2.82" height="2.82" fill="#111"/>
<rect x="212.28" y="191.99" width="2.82" height="2.82" fill="#111"/>
<rect x="221.34" y="191.79" width="2.82" height="2.82" fill="#111"/>
<rect x="230.4" y="191.99" width="2.82" height="2.82" fill="#111"/>
<rect x="266.65" y="180.89" width="2.82" height="2.82" fill="#111"/>
<rect x="275.72" y="182.79" width="2.82" height="2.82" fill="#111"/>
<rect x="284.78" y="179.59" width="2.82" height="2.82" fill="#111"/>
<rect x="293.84" y="178.59" width="2.82" height="2.82" fill="#111"/>
<rect x="302.9" y="178.99" width="2.82" height="2.82" fill="#111"/>
<rect x="311.97" y="178.19" width="2.82" height="2.82" fill="#111"/>
<polyline points="186.5,199.8 195.56,202.7 204.62,206.7 213.69,210.5 222.75,210.7 231.81,209.4" fill="none" stroke="#5a5a5a" stroke-width="0.75" />
<polyline points="231.81,209.4 268.06,208.5" fill="none" stroke="#999" stroke-width="0.75" />
<polyline points="268.06,208.5 277.12,206.9 286.19,209.8 295.25,205 304.31,208.8 313.38,208.3" fill="none" stroke="#5a5a5a" stroke-width="0.75" />
<line x1="251.23" y1="211.65" x2="254.43" y2="206.05" stroke="#555" stroke-width="0.7"/>
<line x1="253.43" y1="211.65" x2="256.62" y2="206.05" stroke="#555" stroke-width="0.7"/>
<circle cx="186.5" cy="199.8" r="1.5" fill="#111"/>
<circle cx="195.56" cy="202.7" r="1.5" fill="#111"/>
<circle cx="204.62" cy="206.7" r="1.5" fill="#111"/>
<circle cx="213.69" cy="210.5" r="1.5" fill="#111"/>
<circle cx="222.75" cy="210.7" r="1.5" fill="#111"/>
<circle cx="231.81" cy="209.4" r="1.5" fill="#111"/>
<circle cx="268.06" cy="208.5" r="1.5" fill="#111"/>
<circle cx="277.12" cy="206.9" r="1.5" fill="#111"/>
<circle cx="286.19" cy="209.8" r="1.5" fill="#111"/>
<circle cx="295.25" cy="205" r="1.5" fill="#111"/>
<circle cx="304.31" cy="208.8" r="1.5" fill="#111"/>
<circle cx="313.38" cy="208.3" r="1.5" fill="#111"/>
<text x="365" y="127" font-size="5.85" text-anchor="start" font-family='"Liberation Serif", serif' font-weight="normal" fill="#222" stroke="#222" stroke-width="0.08" >WBC (10⁹/L)</text>
<text x="482.4" y="126.6" font-size="5.85" text-anchor="start" font-family='"Liberation Serif", serif' font-weight="normal" fill="#222" stroke="#222" stroke-width="0.08" >Hb (g/L)</text>
<text x="482.4" y="134.1" font-size="5.85" text-anchor="start" font-family='"Liberation Serif", serif' font-weight="normal" fill="#222" stroke="#222" stroke-width="0.08" >Plt (10⁹/L)</text>
<line x1="364" y1="133.2" x2="364" y2="214.6" stroke="#4a4a4a" stroke-width="1" />
<line x1="364" y1="214.1" x2="365.6" y2="214.1" stroke="#4a4a4a" stroke-width="0.7" />
<text x="361.8" y="216.1" font-size="5.85" text-anchor="end" font-family='"Liberation Serif", serif' font-weight="normal" fill="#222" stroke="#222" stroke-width="0.08" >0</text>
<line x1="364" y1="187.03" x2="365.6" y2="187.03" stroke="#4a4a4a" stroke-width="0.7" />
<text x="361.8" y="189.03" font-size="5.85" text-anchor="end" font-family='"Liberation Serif", serif' font-weight="normal" fill="#222" stroke="#222" stroke-width="0.08" >50</text>
<line x1="364" y1="159.97" x2="365.6" y2="159.97" stroke="#4a4a4a" stroke-width="0.7" />
<text x="361.8" y="161.97" font-size="5.85" text-anchor="end" font-family='"Liberation Serif", serif' font-weight="normal" fill="#222" stroke="#222" stroke-width="0.08" >100</text>
<line x1="364" y1="132.9" x2="365.6" y2="132.9" stroke="#4a4a4a" stroke-width="0.7" />
<text x="361.8" y="134.9" font-size="5.85" text-anchor="end" font-family='"Liberation Serif", serif' font-weight="normal" fill="#222" stroke="#222" stroke-width="0.08" >150</text>
<line x1="508" y1="133.6" x2="508" y2="214.6" stroke="#4a4a4a" stroke-width="1" />
<line x1="506.4" y1="214.1" x2="508" y2="214.1" stroke="#4a4a4a" stroke-width="0.7" />
<text x="510.9" y="216.1" font-size="5.85" text-anchor="start" font-family='"Liberation Serif", serif' font-weight="normal" fill="#222" stroke="#222" stroke-width="0.08" >0</text>
<line x1="506.4" y1="193.85" x2="508" y2="193.85" stroke="#4a4a4a" stroke-width="0.7" />
<text x="510.9" y="195.85" font-size="5.85" text-anchor="start" font-family='"Liberation Serif", serif' font-weight="normal" fill="#222" stroke="#222" stroke-width="0.08" >50</text>
<line x1="506.4" y1="173.6" x2="508" y2="173.6" stroke="#4a4a4a" stroke-width="0.7" />
<text x="510.9" y="175.6" font-size="5.85" text-anchor="start" font-family='"Liberation Serif", serif' font-weight="normal" fill="#222" stroke="#222" stroke-width="0.08" >100</text>
<line x1="506.4" y1="153.35" x2="508" y2="153.35" stroke="#4a4a4a" stroke-width="0.7" />
<text x="510.9" y="155.35" font-size="5.85" text-anchor="start" font-family='"Liberation Serif", serif' font-weight="normal" fill="#222" stroke="#222" stroke-width="0.08" >150</text>
<line x1="506.4" y1="133.1" x2="508" y2="133.1" stroke="#4a4a4a" stroke-width="0.7" />
<text x="510.9" y="135.1" font-size="5.85" text-anchor="start" font-family='"Liberation Serif", serif' font-weight="normal" fill="#222" stroke="#222" stroke-width="0.08" >200</text>
<line x1="364" y1="214.1" x2="508" y2="214.1" stroke="#4a4a4a" stroke-width="1" />
<line x1="429.43" y1="216.9" x2="432.63" y2="211.3" stroke="#4a4a4a" stroke-width="0.7"/>
<line x1="431.63" y1="216.9" x2="434.83" y2="211.3" stroke="#4a4a4a" stroke-width="0.7"/>
<line x1="373" y1="214.1" x2="373" y2="212.6" stroke="#4a4a4a" stroke-width="0.6" />
<line x1="382" y1="214.1" x2="382" y2="212.6" stroke="#4a4a4a" stroke-width="0.6" />
<line x1="391" y1="214.1" x2="391" y2="212.6" stroke="#4a4a4a" stroke-width="0.6" />
<line x1="400" y1="214.1" x2="400" y2="212.6" stroke="#4a4a4a" stroke-width="0.6" />
<line x1="409" y1="214.1" x2="409" y2="212.6" stroke="#4a4a4a" stroke-width="0.6" />
<line x1="418" y1="214.1" x2="418" y2="212.6" stroke="#4a4a4a" stroke-width="0.6" />
<line x1="427" y1="214.1" x2="427" y2="212.6" stroke="#4a4a4a" stroke-width="0.6" />
<line x1="436" y1="214.1" x2="436" y2="212.6" stroke="#4a4a4a" stroke-width="0.6" />
<line x1="445" y1="214.1" x2="445" y2="212.6" stroke="#4a4a4a" stroke-width="0.6" />
<line x1="454" y1="214.1" x2="454" y2="212.6" stroke="#4a4a4a" stroke-width="0.6" />
<line x1="463" y1="214.1" x2="463" y2="212.6" stroke="#4a4a4a" stroke-width="0.6" />
<line x1="472" y1="214.1" x2="472" y2="212.6" stroke="#4a4a4a" stroke-width="0.6" />
<line x1="481" y1="214.1" x2="481" y2="212.6" stroke="#4a4a4a" stroke-width="0.6" />
<line x1="490" y1="214.1" x2="490" y2="212.6" stroke="#4a4a4a" stroke-width="0.6" />
<line x1="499" y1="214.1" x2="499" y2="212.6" stroke="#4a4a4a" stroke-width="0.6" />
<text x="363.5" y="223" font-size="5.85" text-anchor="middle" font-family='"Liberation Serif", serif' font-weight="normal" fill="#222" stroke="#222" stroke-width="0.08" >0</text>
<text x="381.5" y="223" font-size="5.85" text-anchor="middle" font-family='"Liberation Serif", serif' font-weight="normal" fill="#222" stroke="#222" stroke-width="0.08" >2</text>
<text x="399.5" y="223" font-size="5.85" text-anchor="middle" font-family='"Liberation Serif", serif' font-weight="normal" fill="#222" stroke="#222" stroke-width="0.08" >4</text>
<text x="417.5" y="223" font-size="5.85" text-anchor="middle" font-family='"Liberation Serif", serif' font-weight="normal" fill="#222" stroke="#222" stroke-width="0.08" >6</text>
<text x="444.5" y="223" font-size="5.85" text-anchor="middle" font-family='"Liberation Serif", serif' font-weight="normal" fill="#222" stroke="#222" stroke-width="0.08" >12</text>
<text x="462.5" y="223" font-size="5.85" text-anchor="middle" font-family='"Liberation Serif", serif' font-weight="normal" fill="#222" stroke="#222" stroke-width="0.08" >24</text>
<text x="480.5" y="223" font-size="5.85" text-anchor="middle" font-family='"Liberation Serif", serif' font-weight="normal" fill="#222" stroke="#222" stroke-width="0.08" >36</text>
<text x="498.5" y="223" font-size="5.85" text-anchor="middle" font-family='"Liberation Serif", serif' font-weight="normal" fill="#222" stroke="#222" stroke-width="0.08" >48</text>
<text x="418.4" y="236.6" font-size="5.85" text-anchor="start" font-family='"Liberation Serif", serif' font-weight="normal" fill="#222" stroke="#222" stroke-width="0.08" >months after Dx</text>
<polyline points="364,170.1 373,173.7 382,173.7 391,169.2 400,170.4 409,175.9 418,171.7" fill="none" stroke="#5a5a5a" stroke-width="0.75" />
<polyline points="418,171.7 445,169" fill="none" stroke="#999" stroke-width="0.75" />
<polyline points="445,169 454,168 463,164 466.15,166.4 471.1,162.7" fill="none" stroke="#5a5a5a" stroke-width="0.75" />
<line x1="429.43" y1="173.09" x2="432.63" y2="167.49" stroke="#555" stroke-width="0.7"/>
<line x1="431.63" y1="173.09" x2="434.83" y2="167.49" stroke="#555" stroke-width="0.7"/>
<rect x="362.59" y="168.69" width="2.82" height="2.82" fill="#111"/>
<rect x="371.59" y="172.29" width="2.82" height="2.82" fill="#111"/>
<rect x="380.59" y="172.29" width="2.82" height="2.82" fill="#111"/>
<rect x="389.59" y="167.79" width="2.82" height="2.82" fill="#111"/>
<rect x="398.59" y="168.99" width="2.82" height="2.82" fill="#111"/>
<rect x="407.59" y="174.49" width="2.82" height="2.82" fill="#111"/>
<rect x="416.59" y="170.29" width="2.82" height="2.82" fill="#111"/>
<rect x="443.59" y="167.59" width="2.82" height="2.82" fill="#111"/>
<rect x="452.59" y="166.59" width="2.82" height="2.82" fill="#111"/>
<rect x="461.59" y="162.59" width="2.82" height="2.82" fill="#111"/>
<rect x="464.74" y="164.99" width="2.82" height="2.82" fill="#111"/>
<rect x="469.69" y="161.29" width="2.82" height="2.82" fill="#111"/>
<polyline points="364,194.3 373,201.7 382,200.4 391,200.1 400,197 409,200.8 418,200.1" fill="none" stroke="#5a5a5a" stroke-width="0.75" />
<polyline points="418,200.1 445,207.6" fill="none" stroke="#999" stroke-width="0.75" />
<polyline points="445,207.6 454,205.8 463,196.7 466.15,192.7 471.1,191.9" fill="none" stroke="#5a5a5a" stroke-width="0.75" />
<line x1="429.43" y1="206.83" x2="432.63" y2="201.22" stroke="#555" stroke-width="0.7"/>
<line x1="431.63" y1="206.83" x2="434.83" y2="201.22" stroke="#555" stroke-width="0.7"/>
<polygon points="364,192.67 362.37,195.6 365.63,195.6" fill="#111"/>
<polygon points="373,200.07 371.37,203 374.63,203" fill="#111"/>
<polygon points="382,198.77 380.37,201.7 383.63,201.7" fill="#111"/>
<polygon points="391,198.47 389.37,201.4 392.63,201.4" fill="#111"/>
<polygon points="400,195.37 398.37,198.3 401.63,198.3" fill="#111"/>
<polygon points="409,199.17 407.37,202.1 410.63,202.1" fill="#111"/>
<polygon points="418,198.47 416.37,201.4 419.63,201.4" fill="#111"/>
<polygon points="445,205.97 443.37,208.9 446.63,208.9" fill="#111"/>
<polygon points="454,204.17 452.37,207.1 455.63,207.1" fill="#111"/>
<polygon points="463,195.07 461.37,198 464.63,198" fill="#111"/>
<polygon points="466.15,191.07 464.52,194 467.78,194" fill="#111"/>
<polygon points="471.1,190.27 469.47,193.2 472.73,193.2" fill="#111"/>
<polyline points="364,202.8 373,205.5 382,205.8 391,203.5 400,204.1 409,207.8 418,209.5" fill="none" stroke="#5a5a5a" stroke-width="0.75" />
<polyline points="418,209.5 445,209.1" fill="none" stroke="#999" stroke-width="0.75" />
<polyline points="445,209.1 454,208.5 463,208 466.15,206.7 471.1,209.5" fill="none" stroke="#5a5a5a" stroke-width="0.75" />
<line x1="429.43" y1="212.09" x2="432.63" y2="206.49" stroke="#555" stroke-width="0.7"/>
<line x1="431.63" y1="212.09" x2="434.83" y2="206.49" stroke="#555" stroke-width="0.7"/>
<circle cx="364" cy="202.8" r="1.5" fill="#111"/>
<circle cx="373" cy="205.5" r="1.5" fill="#111"/>
<circle cx="382" cy="205.8" r="1.5" fill="#111"/>
<circle cx="391" cy="203.5" r="1.5" fill="#111"/>
<circle cx="400" cy="204.1" r="1.5" fill="#111"/>
<circle cx="409" cy="207.8" r="1.5" fill="#111"/>
<circle cx="418" cy="209.5" r="1.5" fill="#111"/>
<circle cx="445" cy="209.1" r="1.5" fill="#111"/>
<circle cx="454" cy="208.5" r="1.5" fill="#111"/>
<circle cx="463" cy="208" r="1.5" fill="#111"/>
<circle cx="466.15" cy="206.7" r="1.5" fill="#111"/>
<circle cx="471.1" cy="209.5" r="1.5" fill="#111"/>
<text x="417" y="186.6" font-size="5.85" text-anchor="middle" font-family='"Liberation Serif", serif' font-weight="normal" fill="#222" stroke="#222" stroke-width="0.08" >Plt-Tr</text>
<line x1="417.6" y1="187.4" x2="417.6" y2="193" stroke="#111" stroke-width="0.8" />
<polygon points="415.9,192.0 419.3,192.0 417.6,196.3" fill="#111"/>
<text x="12.2" y="263.5" font-size="7.35" text-anchor="start" font-family='"Liberation Serif", serif' font-weight="normal" fill="#222" stroke="#222" stroke-width="0.22" >GM colony growth</text>
<line x1="11.2" y1="267" x2="179.2" y2="267" stroke="#333" stroke-width="1.2" />
<text x="12.2" y="277.9" font-size="7.35" text-anchor="start" font-family='"Liberation Serif", serif' font-weight="normal" fill="#222" stroke="#222" stroke-width="0.22" >Interval after Dx (mo)</text>
<line x1="11.2" y1="283.4" x2="179.2" y2="283.4" stroke="#555" stroke-width="0.9" />
<text x="12.2" y="295.6" font-size="7.35" text-anchor="start" font-family='"Liberation Serif", serif' font-weight="normal" fill="#222" stroke="#222" stroke-width="0.22" >No factors</text>
<text x="12.2" y="313.3" font-size="7.35" text-anchor="start" font-family='"Liberation Serif", serif' font-weight="normal" fill="#222" stroke="#222" stroke-width="0.22" >GM-CSF</text>
<line x1="11.2" y1="318.5" x2="179.2" y2="318.5" stroke="#333" stroke-width="1.2" />
<text x="96.3" y="277.9" font-size="7.35" text-anchor="middle" font-family='"Liberation Serif", serif' font-weight="normal" fill="#222" stroke="#222" stroke-width="0.22" >0</text>
<text x="120.3" y="277.9" font-size="7.35" text-anchor="middle" font-family='"Liberation Serif", serif' font-weight="normal" fill="#222" stroke="#222" stroke-width="0.22" >6</text>
<text x="141.3" y="277.9" font-size="7.35" text-anchor="middle" font-family='"Liberation Serif", serif' font-weight="normal" fill="#222" stroke="#222" stroke-width="0.22" >12</text>
<text x="164.8" y="277.9" font-size="7.35" text-anchor="middle" font-family='"Liberation Serif", serif' font-weight="normal" fill="#222" stroke="#222" stroke-width="0.22" >46</text>
<text x="100.3" y="295.6" font-size="7.35" text-anchor="end" font-family='"Liberation Serif", serif' font-weight="normal" fill="#222" stroke="#222" stroke-width="0.22" >7.3</text>
<text x="120.3" y="295.6" font-size="7.35" text-anchor="middle" font-family='"Liberation Serif", serif' font-weight="normal" fill="#222" stroke="#222" stroke-width="0.22" >22.5</text>
<text x="142.1" y="295.6" font-size="7.35" text-anchor="middle" font-family='"Liberation Serif", serif' font-weight="normal" fill="#222" stroke="#222" stroke-width="0.22" >1.5</text>
<text x="164.6" y="295.6" font-size="7.35" text-anchor="middle" font-family='"Liberation Serif", serif' font-weight="normal" fill="#222" stroke="#222" stroke-width="0.22" >0</text>
<text x="100.3" y="313.3" font-size="7.35" text-anchor="end" font-family='"Liberation Serif", serif' font-weight="normal" fill="#222" stroke="#222" stroke-width="0.22" >27.5</text>
<text x="120.3" y="313.3" font-size="7.35" text-anchor="middle" font-family='"Liberation Serif", serif' font-weight="normal" fill="#222" stroke="#222" stroke-width="0.22" >49.5</text>
<text x="142.1" y="313.3" font-size="7.35" text-anchor="middle" font-family='"Liberation Serif", serif' font-weight="normal" fill="#222" stroke="#222" stroke-width="0.22" >7.5</text>
<text x="164.6" y="313.3" font-size="7.35" text-anchor="middle" font-family='"Liberation Serif", serif' font-weight="normal" fill="#222" stroke="#222" stroke-width="0.22" >0</text>
<text x="196.4" y="263.5" font-size="7.35" text-anchor="start" font-family='"Liberation Serif", serif' font-weight="normal" fill="#222" stroke="#222" stroke-width="0.22" >GM colony growth</text>
<line x1="195.4" y1="267" x2="320.3" y2="267" stroke="#333" stroke-width="1.2" />
<text x="196.4" y="277.9" font-size="7.35" text-anchor="start" font-family='"Liberation Serif", serif' font-weight="normal" fill="#222" stroke="#222" stroke-width="0.22" >Interval after Dx (mo)</text>
<line x1="195.4" y1="283.4" x2="320.3" y2="283.4" stroke="#555" stroke-width="0.9" />
<text x="196.4" y="295.6" font-size="7.35" text-anchor="start" font-family='"Liberation Serif", serif' font-weight="normal" fill="#222" stroke="#222" stroke-width="0.22" >No factors</text>
<text x="196.4" y="313.3" font-size="7.35" text-anchor="start" font-family='"Liberation Serif", serif' font-weight="normal" fill="#222" stroke="#222" stroke-width="0.22" >GM-CSF</text>
<line x1="195.4" y1="318.5" x2="320.3" y2="318.5" stroke="#333" stroke-width="1.2" />
<text x="280" y="277.9" font-size="7.35" text-anchor="middle" font-family='"Liberation Serif", serif' font-weight="normal" fill="#222" stroke="#222" stroke-width="0.22" >0</text>
<text x="305.3" y="277.9" font-size="7.35" text-anchor="middle" font-family='"Liberation Serif", serif' font-weight="normal" fill="#222" stroke="#222" stroke-width="0.22" >34</text>
<text x="282" y="295.6" font-size="7.35" text-anchor="end" font-family='"Liberation Serif", serif' font-weight="normal" fill="#222" stroke="#222" stroke-width="0.22" >2</text>
<text x="304.2" y="295.6" font-size="7.35" text-anchor="middle" font-family='"Liberation Serif", serif' font-weight="normal" fill="#222" stroke="#222" stroke-width="0.22" >0</text>
<text x="282" y="313.3" font-size="7.35" text-anchor="end" font-family='"Liberation Serif", serif' font-weight="normal" fill="#222" stroke="#222" stroke-width="0.22" >197</text>
<text x="306.5" y="313.3" font-size="7.35" text-anchor="middle" font-family='"Liberation Serif", serif' font-weight="normal" fill="#222" stroke="#222" stroke-width="0.22" >0.3</text>
<text x="377.6" y="263.5" font-size="7.35" text-anchor="start" font-family='"Liberation Serif", serif' font-weight="normal" fill="#222" stroke="#222" stroke-width="0.22" >GM colony growth</text>
<line x1="376.6" y1="267" x2="500.8" y2="267" stroke="#333" stroke-width="1.2" />
<text x="377.6" y="277.9" font-size="7.35" text-anchor="start" font-family='"Liberation Serif", serif' font-weight="normal" fill="#222" stroke="#222" stroke-width="0.22" >Interval after Dx (mo)</text>
<line x1="376.6" y1="283.4" x2="500.8" y2="283.4" stroke="#555" stroke-width="0.9" />
<text x="377.6" y="295.6" font-size="7.35" text-anchor="start" font-family='"Liberation Serif", serif' font-weight="normal" fill="#222" stroke="#222" stroke-width="0.22" >No factors</text>
<text x="377.6" y="313.3" font-size="7.35" text-anchor="start" font-family='"Liberation Serif", serif' font-weight="normal" fill="#222" stroke="#222" stroke-width="0.22" >GM-CSF</text>
<line x1="376.6" y1="318.5" x2="500.8" y2="318.5" stroke="#333" stroke-width="1.2" />
<text x="459.6" y="277.9" font-size="7.35" text-anchor="middle" font-family='"Liberation Serif", serif' font-weight="normal" fill="#222" stroke="#222" stroke-width="0.22" >12</text>
<text x="485" y="277.9" font-size="7.35" text-anchor="middle" font-family='"Liberation Serif", serif' font-weight="normal" fill="#222" stroke="#222" stroke-width="0.22" >26</text>
<text x="465.2" y="295.6" font-size="7.35" text-anchor="end" font-family='"Liberation Serif", serif' font-weight="normal" fill="#222" stroke="#222" stroke-width="0.22" >37.3</text>
<text x="489" y="295.6" font-size="7.35" text-anchor="end" font-family='"Liberation Serif", serif' font-weight="normal" fill="#222" stroke="#222" stroke-width="0.22" >5.3</text>
<text x="465.2" y="313.3" font-size="7.35" text-anchor="end" font-family='"Liberation Serif", serif' font-weight="normal" fill="#222" stroke="#222" stroke-width="0.22" >63.7</text>
<text x="489" y="313.3" font-size="7.35" text-anchor="end" font-family='"Liberation Serif", serif' font-weight="normal" fill="#222" stroke="#222" stroke-width="0.22" >18.5</text>
<text x="2.4" y="365.3" font-size="17.2" text-anchor="start" font-family='"Liberation Sans", sans-serif' font-weight="bold" fill="#000" >B</text>
<line x1="41.7" y1="388.2" x2="41.7" y2="500.5" stroke="#6a6a6a" stroke-width="1.1" />
<line x1="41.7" y1="500" x2="285.6" y2="500" stroke="#777" stroke-width="1.1" />
<line x1="41.7" y1="500" x2="44.1" y2="500" stroke="#666" stroke-width="0.8" />
<text x="36.1" y="502.9" font-size="8.0" text-anchor="end" font-family='"Liberation Serif", serif' font-weight="normal" fill="#222" stroke="#222" stroke-width="0.22" >0</text>
<line x1="41.7" y1="484.07" x2="44.1" y2="484.07" stroke="#666" stroke-width="0.8" />
<text x="36.1" y="486.97" font-size="8.0" text-anchor="end" font-family='"Liberation Serif", serif' font-weight="normal" fill="#222" stroke="#222" stroke-width="0.22" >20</text>
<line x1="41.7" y1="468.14" x2="44.1" y2="468.14" stroke="#666" stroke-width="0.8" />
<text x="36.1" y="471.04" font-size="8.0" text-anchor="end" font-family='"Liberation Serif", serif' font-weight="normal" fill="#222" stroke="#222" stroke-width="0.22" >40</text>
<line x1="41.7" y1="452.22" x2="44.1" y2="452.22" stroke="#666" stroke-width="0.8" />
<text x="36.1" y="455.12" font-size="8.0" text-anchor="end" font-family='"Liberation Serif", serif' font-weight="normal" fill="#222" stroke="#222" stroke-width="0.22" >60</text>
<line x1="41.7" y1="436.29" x2="44.1" y2="436.29" stroke="#666" stroke-width="0.8" />
<text x="36.1" y="439.19" font-size="8.0" text-anchor="end" font-family='"Liberation Serif", serif' font-weight="normal" fill="#222" stroke="#222" stroke-width="0.22" >80</text>
<line x1="41.7" y1="420.36" x2="44.1" y2="420.36" stroke="#666" stroke-width="0.8" />
<text x="36.1" y="423.26" font-size="8.0" text-anchor="end" font-family='"Liberation Serif", serif' font-weight="normal" fill="#222" stroke="#222" stroke-width="0.22" >100</text>
<line x1="41.7" y1="404.43" x2="44.1" y2="404.43" stroke="#666" stroke-width="0.8" />
<text x="36.1" y="407.33" font-size="8.0" text-anchor="end" font-family='"Liberation Serif", serif' font-weight="normal" fill="#222" stroke="#222" stroke-width="0.22" >120</text>
<line x1="41.7" y1="388.5" x2="44.1" y2="388.5" stroke="#666" stroke-width="0.8" />
<text x="36.1" y="391.4" font-size="8.0" text-anchor="end" font-family='"Liberation Serif", serif' font-weight="normal" fill="#222" stroke="#222" stroke-width="0.22" >140</text>
<line x1="71.9" y1="500" x2="71.9" y2="497.6" stroke="#666" stroke-width="0.8" />
<text x="71.9" y="511.4" font-size="8.2" text-anchor="middle" font-family='"Liberation Serif", serif' font-weight="normal" fill="#222" stroke="#222" stroke-width="0.22" >0.01</text>
<line x1="133.35" y1="500" x2="133.35" y2="497.6" stroke="#666" stroke-width="0.8" />
<text x="133.35" y="511.4" font-size="8.2" text-anchor="middle" font-family='"Liberation Serif", serif' font-weight="normal" fill="#222" stroke="#222" stroke-width="0.22" >0.1</text>
<line x1="194.8" y1="500" x2="194.8" y2="497.6" stroke="#666" stroke-width="0.8" />
<text x="194.8" y="511.4" font-size="8.2" text-anchor="middle" font-family='"Liberation Serif", serif' font-weight="normal" fill="#222" stroke="#222" stroke-width="0.22" >1</text>
<line x1="256.25" y1="500" x2="256.25" y2="497.6" stroke="#666" stroke-width="0.8" />
<text x="256.25" y="511.4" font-size="8.2" text-anchor="middle" font-family='"Liberation Serif", serif' font-weight="normal" fill="#222" stroke="#222" stroke-width="0.22" >10</text>
<text x="165" y="530.8" font-size="8.5" text-anchor="middle" font-family='"Liberation Serif", serif' font-weight="normal" fill="#222" stroke="#222" stroke-width="0.22" >GM-CSF (ng/mL)</text>
<text transform="translate(13.2,437.8) rotate(-90)" font-size="8.5" text-anchor="middle" font-family='"Liberation Serif", serif' fill="#222">GM colony growth (% of control)</text>
<polyline points="71.9,436.29 133.35,412.08 194.8,417.73 256.25,420.36" fill="none" stroke="#222" stroke-width="1.0" />
<polyline points="71.9,440.75 133.35,415.74 194.8,412.87 256.25,420.36" fill="none" stroke="#222" stroke-width="1.0" />
<polyline points="71.9,440.75 133.35,432.62 194.8,424.82 256.25,420.36" fill="none" stroke="#222" stroke-width="1.0" />
<polyline points="71.9,450.46 133.35,435.49 194.8,399.73 256.25,420.36" fill="none" stroke="#222" stroke-width="1.0" />
<polyline points="71.9,456.84 133.35,428.09 194.8,428.56 256.25,420.36" fill="none" stroke="#222" stroke-width="1.0" />
<polyline points="71.9,472.52 133.35,445.61 194.8,419.88 256.25,420.36" fill="none" stroke="#222" stroke-width="1.0" />
<polyline points="71.9,485.51 133.35,459.54 194.8,441.07 256.25,420.36" fill="none" stroke="#444" stroke-width="0.95" stroke-dasharray="1.3,2.2"/>
<polyline points="71.9,490.28 133.35,464.72 194.8,424.82 256.25,420.36" fill="none" stroke="#444" stroke-width="0.95" stroke-dasharray="1.3,2.2"/>
<polyline points="71.9,494.5 133.35,465.12 194.8,441.07 256.25,420.36" fill="none" stroke="#444" stroke-width="0.95" stroke-dasharray="1.3,2.2"/>
<rect x="70.3" y="434.69" width="3.2" height="3.2" fill="#fff" stroke="#111" stroke-width="0.8"/>
<rect x="131.75" y="410.48" width="3.2" height="3.2" fill="#fff" stroke="#111" stroke-width="0.8"/>
<rect x="193.2" y="416.13" width="3.2" height="3.2" fill="#fff" stroke="#111" stroke-width="0.8"/>
<rect x="70.3" y="439.15" width="3.2" height="3.2" fill="#111"/>
<rect x="131.75" y="414.14" width="3.2" height="3.2" fill="#111"/>
<rect x="193.2" y="411.27" width="3.2" height="3.2" fill="#111"/>
<polygon points="71.9,438.75 69.9,442.35 73.9,442.35" fill="#fff" stroke="#111" stroke-width="0.8"/>
<polygon points="133.35,430.62 131.35,434.22 135.35,434.22" fill="#fff" stroke="#111" stroke-width="0.8"/>
<polygon points="194.8,422.82 192.8,426.42 196.8,426.42" fill="#fff" stroke="#111" stroke-width="0.8"/>
<polygon points="71.9,448.61 70.05,451.94 73.75,451.94" fill="#111"/>
<polygon points="133.35,433.64 131.5,436.97 135.2,436.97" fill="#111"/>
<polygon points="194.8,397.88 192.95,401.21 196.65,401.21" fill="#111"/>
<circle cx="71.9" cy="456.84" r="1.7" fill="#111"/>
<circle cx="133.35" cy="428.09" r="1.7" fill="#111"/>
<circle cx="194.8" cy="428.56" r="1.7" fill="#111"/>
<circle cx="71.9" cy="472.52" r="1.5" fill="#fff" stroke="#111" stroke-width="0.7"/>
<circle cx="133.35" cy="445.61" r="1.5" fill="#fff" stroke="#111" stroke-width="0.7"/>
<circle cx="194.8" cy="419.88" r="1.5" fill="#fff" stroke="#111" stroke-width="0.7"/>
<polygon points="71.9,483.51 73.9,485.51 71.9,487.51 69.9,485.51" fill="#fff" stroke="#111" stroke-width="0.8"/>
<polygon points="133.35,457.54 135.35,459.54 133.35,461.54 131.35,459.54" fill="#fff" stroke="#111" stroke-width="0.8"/>
<polygon points="194.8,439.07 196.8,441.07 194.8,443.07 192.8,441.07" fill="#fff" stroke="#111" stroke-width="0.8"/>
<path d="M70.3,488.68L73.5,488.68L70.3,491.88L73.5,491.88Z" fill="#111" stroke="#111" stroke-width="0.5"/>
<path d="M131.75,463.12L134.95,463.12L131.75,466.32L134.95,466.32Z" fill="#111" stroke="#111" stroke-width="0.5"/>
<path d="M193.2,423.22L196.4,423.22L193.2,426.42L196.4,426.42Z" fill="#111" stroke="#111" stroke-width="0.5"/>
<path d="M71.9,492.6L72.5,493.9L73.8,494.5L72.5,495.1L71.9,496.4L71.3,495.1L70,494.5L71.3,493.9Z" fill="#111"/>
<path d="M133.35,463.22L133.95,464.52L135.25,465.12L133.95,465.72L133.35,467.02L132.75,465.72L131.45,465.12L132.75,464.52Z" fill="#111"/>
<path d="M194.8,439.17L195.4,440.47L196.7,441.07L195.4,441.67L194.8,442.97L194.2,441.67L192.9,441.07L194.2,440.47Z" fill="#111"/>
<rect x="254.65" y="418.76" width="3.2" height="3.2" fill="#111"/>
</svg>
</body></html>
